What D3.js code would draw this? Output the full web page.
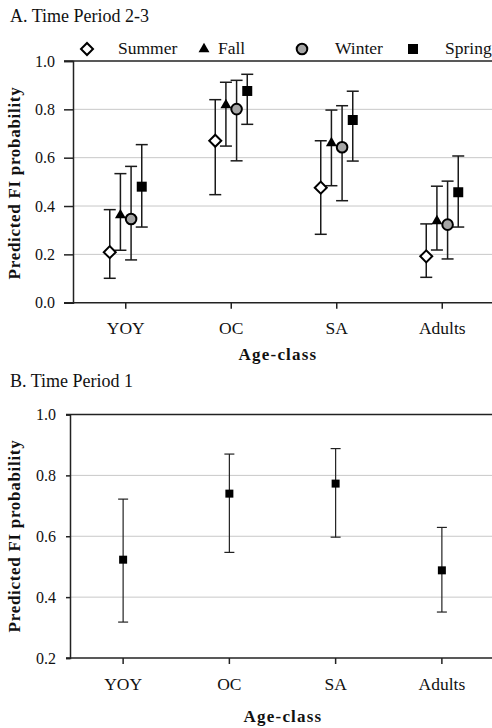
<!DOCTYPE html>
<html lang="en">
<head>
  <meta charset="UTF-8">
  <title>Predicted FI probability</title>
  <style>
    body { margin: 0; background: #fff; }
    svg text { font-family: "Liberation Serif", "Times New Roman", serif; fill: #111; }
  </style>
</head>
<body>
  <svg id="chart" width="492" height="728"></svg>
  <script src="https://cdn.jsdelivr.net/npm/d3@7"></script>
  <script>
    // age classes and seasons
    const categories = ['YOY', 'OC', 'SA', 'Adults']
    const seasons = ['Summer', 'Fall', 'Winter', 'Spring']
    const ticksA = [0.0, 0.2, 0.4, 0.6, 0.8, 1.0]
    const ticksB = [0.2, 0.4, 0.6, 0.8, 1.0]

    // panel A: time period 2-3, one series per season
    const summerMean = [0.209, 0.670, 0.476, 0.192]
    const summerLow  = [0.101, 0.447, 0.283, 0.105]
    const summerHigh = [0.385, 0.840, 0.670, 0.326]
    const fallMean = [0.362, 0.818, 0.660, 0.338]
    const fallLow  = [0.217, 0.648, 0.484, 0.218]
    const fallHigh = [0.534, 0.912, 0.797, 0.482]
    const winterMean = [0.346, 0.801, 0.643, 0.323]
    const winterLow  = [0.177, 0.587, 0.422, 0.181]
    const winterHigh = [0.564, 0.920, 0.815, 0.503]
    const springMean = [0.480, 0.876, 0.756, 0.457]
    const springLow  = [0.313, 0.738, 0.586, 0.313]
    const springHigh = [0.654, 0.945, 0.875, 0.607]

    // panel B: time period 1
    const p1Mean = [0.523, 0.740, 0.773, 0.488]
    const p1Low  = [0.318, 0.547, 0.597, 0.351]
    const p1High = [0.722, 0.870, 0.888, 0.629]

    const seriesA = [
      { name: 'Summer', mean: summerMean, low: summerLow, high: summerHigh },
      { name: 'Fall', mean: fallMean, low: fallLow, high: fallHigh },
      { name: 'Winter', mean: winterMean, low: winterLow, high: winterHigh },
      { name: 'Spring', mean: springMean, low: springLow, high: springHigh }
    ]

    // marker look per season
    const markers = {
      Summer: { type: d3.symbolSquare, size: 72, rotate: 45, fill: '#fff', stroke: '#000', sw: 2 },
      Fall:   { type: d3.symbolTriangle, size: 52, rotate: 0, fill: '#000', stroke: 'none', sw: 0 },
      Winter: { type: d3.symbolCircle, size: 88, rotate: 0, fill: '#a6a6a6', stroke: '#000', sw: 2 },
      Spring: { type: d3.symbolSquare, size: 100, rotate: 0, fill: '#000', stroke: 'none', sw: 0 }
    }

    const svg = d3.select('#chart')

    function marker(g, name, x, y) {
      const m = markers[name]
      g.append('path')
        .attr('d', d3.symbol().type(m.type).size(m.size)())
        .attr('transform', `translate(${x},${y}) rotate(${m.rotate})`)
        .attr('fill', m.fill)
        .attr('stroke', m.stroke)
        .attr('stroke-width', m.sw)
    }

    function errorBar(g, x, lo, hi, capW, sw, color) {
      g.append('line').attr('x1', x).attr('x2', x).attr('y1', lo).attr('y2', hi)
        .attr('stroke', color).attr('stroke-width', sw)
      ;[lo, hi].forEach(v => {
        g.append('line').attr('x1', x - capW / 2).attr('x2', x + capW / 2).attr('y1', v).attr('y2', v)
          .attr('stroke', color).attr('stroke-width', sw)
      })
    }

    // shared frame: grid, axes, labels
    function frame(g, x, y, ticks, o) {
      g.append('g').selectAll('line').data(ticks.slice(1, -1)).enter().append('line')
        .attr('x1', x.range()[0]).attr('x2', x.range()[1])
        .attr('y1', d => y(d)).attr('y2', d => y(d))
        .attr('stroke', '#c8c8c8').attr('stroke-width', 1)

      // top border
      g.append('line')
        .attr('x1', x.range()[0] - o.yTick).attr('x2', x.range()[1])
        .attr('y1', y.range()[1]).attr('y2', y.range()[1])
        .attr('stroke', '#222').attr('stroke-width', 1.5)

      const yAxis = g.append('g')
        .attr('transform', `translate(${x.range()[0]},0)`)
        .call(d3.axisLeft(y).tickValues(ticks).tickFormat(d3.format('.1f')).tickSize(o.yTick).tickPadding(o.yPad))
      yAxis.select('.domain').attr('stroke', '#222').attr('stroke-width', 1.5)
      yAxis.selectAll('.tick line').attr('stroke', '#222').attr('stroke-width', 1.5)
      yAxis.selectAll('.tick text').attr('font-size', 16).attr('fill', '#111')

      const xAxis = g.append('g')
        .attr('transform', `translate(0,${y.range()[0]})`)
        .call(d3.axisBottom(x).tickSize(o.xTick).tickPadding(o.xPad).tickSizeOuter(0))
      xAxis.select('.domain').attr('stroke', '#222').attr('stroke-width', 1.5)
        .attr('d', `M${x.range()[0] - o.yTick},0H${x.range()[1]}`)
      xAxis.selectAll('.tick line').attr('stroke', '#222').attr('stroke-width', 1.5)
      xAxis.selectAll('.tick text').attr('font-size', 17.5).attr('fill', '#111')

      g.append('text')
        .attr('transform', `translate(20,${o.yLabelY}) rotate(-90)`)
        .attr('text-anchor', 'middle')
        .attr('font-size', 17).attr('font-weight', 'bold').attr('letter-spacing', 0.7)
        .text('Predicted FI probability')

      g.append('text')
        .attr('x', o.xLabelX).attr('y', o.xLabelY)
        .attr('text-anchor', 'middle')
        .attr('font-size', 17).attr('font-weight', 'bold').attr('letter-spacing', 1.2)
        .text('Age-class')

      g.append('text')
        .attr('x', 10).attr('y', o.titleY)
        .attr('font-size', 18)
        .text(o.title)
    }

    // ---- panel A ----
    const gA = svg.append('g')
    const xA = d3.scaleBand().domain(categories).range([73, 495])
    const yA = d3.scaleLinear().domain([0, 1]).range([302.7, 61])
    const off = d3.scalePoint().domain(seasons).range([-16, 16])

    frame(gA, xA, yA, ticksA, {
      yTick: 9, yPad: 9, xTick: 6, xPad: 13,
      yLabelY: 183, xLabelX: 278, xLabelY: 360,
      titleY: 22, title: 'A. Time Period 2-3'
    })

    seriesA.forEach(s => {
      categories.forEach((c, i) => {
        const cx = xA(c) + xA.bandwidth() / 2 + off(s.name)
        errorBar(gA, cx, yA(s.low[i]), yA(s.high[i]), 12, 1.5, '#1a1a1a')
      })
    })
    seriesA.forEach(s => {
      categories.forEach((c, i) => {
        const cx = xA(c) + xA.bandwidth() / 2 + off(s.name)
        marker(gA, s.name, cx, yA(s.mean[i]))
      })
    })

    // legend along the top
    const legendMarkX = [87, 204, 302, 413]
    const legendTextX = [118, 218, 335, 445]
    seasons.forEach((s, i) => {
      marker(gA, s, legendMarkX[i], 49)
      gA.append('text').attr('x', legendTextX[i]).attr('y', 54)
        .attr('font-size', 17.5).text(s)
    })

    // ---- panel B ----
    const gB = svg.append('g')
    const xB = d3.scaleBand().domain(categories).range([70, 495])
    const yB = d3.scaleLinear().domain([0.2, 1]).range([658, 414.5])

    frame(gB, xB, yB, ticksB, {
      yTick: 4, yPad: 10, xTick: 6, xPad: 14,
      yLabelY: 536, xLabelX: 283, xLabelY: 722,
      titleY: 387, title: 'B. Time Period 1'
    })

    categories.forEach((c, i) => {
      const cx = xB(c) + xB.bandwidth() / 2
      errorBar(gB, cx, yB(p1Low[i]), yB(p1High[i]), 10, 1.2, '#222')
    })
    categories.forEach((c, i) => {
      const cx = xB(c) + xB.bandwidth() / 2
      gB.append('path')
        .attr('d', d3.symbol().type(d3.symbolSquare).size(64)())
        .attr('transform', `translate(${cx},${yB(p1Mean[i])})`)
        .attr('fill', '#000')
    })
  </script>
</body>
</html>
